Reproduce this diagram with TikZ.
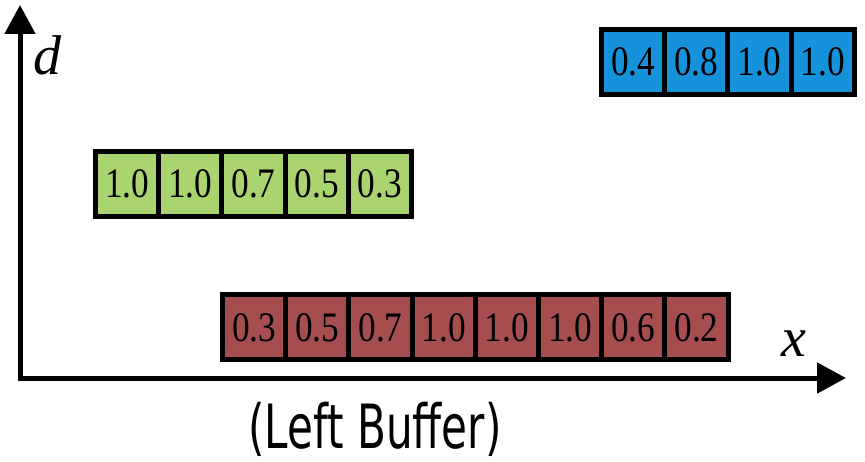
\documentclass[tikz,border=0pt]{standalone}
\usepackage{fontspec}
\usetikzlibrary{arrows.meta}
\newfontfamily\cellfont[FakeStretch=0.84]{Liberation Serif}
\newfontfamily\axisfont{Liberation Serif}
\newfontfamily\capfont[FakeStretch=0.69]{DejaVu Sans}
\definecolor{cellblue}{HTML}{1592DA}
\definecolor{cellgreen}{HTML}{A9D46F}
\definecolor{cellred}{HTML}{A64D50}
\tikzset{
  cellbox/.style={draw=black, line width=5pt, minimum width=63.2pt,
    minimum height=65pt, inner sep=0pt, outer sep=0pt,
    font=\cellfont\fontsize{42}{42}\selectfont},
  axisline/.style={line width=5pt, line join=miter,
    {Triangle[length=29pt,width=30pt]}-{Triangle[length=29pt,width=30pt]}},
  axislabel/.style={font=\axisfont\itshape\fontsize{56}{56}\selectfont, inner sep=0pt}
}
\begin{document}
\begin{tikzpicture}[x=1pt,y=-1pt]
  \useasboundingbox (0,0) rectangle (865,462);
  \fill[white] (0,0) rectangle (865,462);

  % axes
  \coordinate (dtip) at (20,5);
  \coordinate (origin) at (20,378);
  \coordinate (xtip) at (846,378);
  \draw[axisline] (dtip) -- (origin) -- (xtip);
  \node[axislabel] (dlabel) at (48,55) {d};
  \node[axislabel] (xlabel) at (794,344) {x};

  % blue buffer
  \foreach \v [count=\i] in {0.4,0.8,1.0,1.0}
    \node[cellbox, fill=cellblue] (b\i) at ({601.5+63.2*(\i-0.5)},62) {\v};

  % green buffer
  \foreach \v [count=\i] in {1.0,1.0,0.7,0.5,0.3}
    \node[cellbox, fill=cellgreen] (g\i) at ({95.5+63.2*(\i-0.5)},184) {\v};

  % red buffer
  \foreach \v [count=\i] in {0.3,0.5,0.7,1.0,1.0,1.0,0.6,0.2}
    \node[cellbox, fill=cellred] (r\i) at ({222.5+63.2*(\i-0.5)},327.5) {\v};

  % caption
  \node[anchor=base, inner sep=0pt, font=\capfont\fontsize{61}{61}\selectfont]
    (caption) at (375,448) {(Left Buffer)};
\end{tikzpicture}
\end{document}
